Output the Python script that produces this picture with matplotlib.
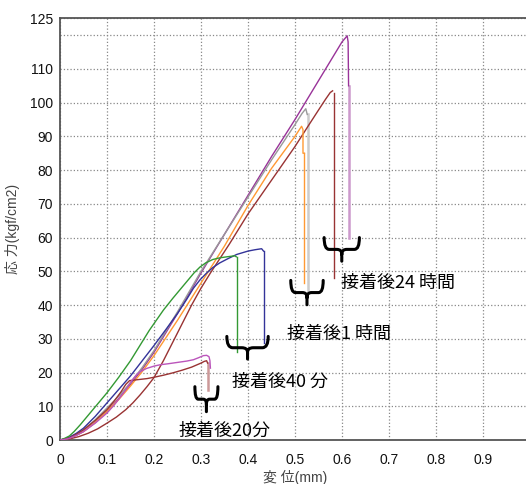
import numpy as np
import matplotlib
matplotlib.use('Agg')
import matplotlib.pyplot as plt
from matplotlib.path import Path
from matplotlib.patches import PathPatch

plt.rcParams['font.family'] = ['Liberation Sans', 'Noto Sans CJK JP']

# 接着後20分
m20_x = [0, 0.01, 0.02, 0.035, 0.05, 0.075, 0.1, 0.115, 0.13, 0.142, 0.152, 0.162, 0.17, 0.184,
         0.2, 0.213, 0.23, 0.25, 0.27, 0.284, 0.295, 0.305, 0.312, 0.317, 0.319, 0.32]
m20_y = [0, 0.2, 0.5, 1.4, 2.5, 5, 8, 10.3, 13, 15.3, 17.5, 19.2, 20.2, 21.2,
         21.9, 22.3, 22.6, 23, 23.4, 23.8, 24.4, 25, 25.1, 24.7, 23.5, 21.3]
r20_x = [0, 0.01, 0.02, 0.035, 0.05, 0.075, 0.1, 0.115, 0.13, 0.14, 0.148, 0.16, 0.185,
         0.2, 0.22, 0.24, 0.26, 0.28, 0.29, 0.3, 0.307, 0.312, 0.314]
r20_y = [0, 0.2, 0.6, 1.7, 3, 5.8, 9, 11.5, 14.3, 16.5, 17.6, 17.8, 18.2,
         18.6, 19.2, 19.9, 20.7, 21.6, 22.2, 22.8, 23.3, 23.5, 22.8]
r20_drop = (0.314, 22.8, 14.8)

# 接着後40分
g40_x = [0, 0.01, 0.02, 0.03, 0.043, 0.07, 0.1, 0.125, 0.15, 0.17, 0.19, 0.22, 0.24, 0.255,
         0.27, 0.285, 0.298, 0.31, 0.325, 0.34, 0.355, 0.372, 0.375]
g40_y = [0, 0.5, 1.2, 2.5, 4.5, 9, 14, 18.6, 23.5, 28, 32.5, 38.5, 42, 44.5,
         47, 49.5, 51.3, 52.5, 53.5, 54, 54.3, 54.6, 54.3]
g40_drop = (0.376, 54.3, 26)
b40_x = [0, 0.01, 0.02, 0.035, 0.05, 0.075, 0.1, 0.125, 0.15, 0.175, 0.2, 0.225, 0.25, 0.27,
         0.284, 0.298, 0.312, 0.325, 0.34, 0.358, 0.376, 0.4, 0.415, 0.429, 0.433]
b40_y = [0, 0.3, 0.8, 2, 3.5, 7, 11, 15, 19, 23.5, 28, 32.7, 37.5, 41.8,
         45, 47.5, 49.5, 51.1, 52.5, 53.8, 55, 56, 56.4, 56.7, 56]
b40_drop = (0.434, 56, 28.8)

# 接着後1時間
k1_x = [0, 0.01, 0.02, 0.035, 0.05, 0.075, 0.1, 0.125, 0.15, 0.175, 0.2, 0.25, 0.3, 0.35,
        0.4, 0.45, 0.5, 0.515, 0.523, 0.526]
k1_y = [0, 0.3, 0.8, 1.8, 3, 6, 9.5, 13, 17, 21.5, 26.5, 38, 50, 61,
        72, 83, 93.5, 96.8, 98.2, 96.5]
k1_drop = (0.527, 96.5, 44)
o1_x = [0, 0.01, 0.02, 0.035, 0.05, 0.075, 0.1, 0.125, 0.15, 0.175, 0.2, 0.25, 0.3, 0.35,
        0.4, 0.45, 0.5, 0.514, 0.517, 0.517, 0.52]
o1_y = [0, 0.2, 0.6, 1.5, 2.5, 5.2, 8.5, 12, 16, 20.3, 25, 35.5, 46.5, 57.5,
        69.5, 80.5, 90, 93, 92, 85, 85]
o1_drop = (0.52, 85, 46.5)

# 接着後24時間
p24_x = [0, 0.01, 0.02, 0.035, 0.05, 0.075, 0.1, 0.125, 0.15, 0.175, 0.2, 0.25, 0.3, 0.35,
         0.4, 0.45, 0.5, 0.55, 0.6, 0.611, 0.613, 0.614]
p24_y = [0, 0.2, 0.5, 1.4, 2.5, 5.2, 8.5, 12.3, 16.5, 21, 26, 37.5, 49.5, 61,
         72.5, 84, 95, 106.5, 118, 119.8, 118, 105]
p24_drop = (0.614, 105, 60)
r24_x = [0, 0.02, 0.04, 0.06, 0.08, 0.1, 0.12, 0.14, 0.155, 0.17, 0.185, 0.2, 0.22, 0.24,
         0.26, 0.28, 0.3, 0.32, 0.36, 0.4, 0.45, 0.5, 0.53, 0.55, 0.565, 0.575, 0.58]
r24_y = [0, 0.3, 1, 2, 3.3, 5, 6.8, 9, 11, 13.3, 15.8, 18.5, 23.5, 29,
         34.5, 40, 45, 49.5, 58, 67, 77, 87, 93.5, 97.8, 101, 103, 103.5]
r24_drop = (0.582, 103, 48)

curves = [
    (r24_x, r24_y, '#993333', r24_drop, '#993333'),
    (p24_x, p24_y, '#993399', p24_drop, '#cc99cc'),
    (k1_x, k1_y, '#999999', k1_drop, '#cccccc'),
    (o1_x, o1_y, '#ff9933', o1_drop, '#ff9933'),
    (b40_x, b40_y, '#333399', b40_drop, '#333399'),
    (g40_x, g40_y, '#339933', g40_drop, '#339933'),
    (r20_x, r20_y, '#993333', r20_drop, '#cc9999'),
    (m20_x, m20_y, '#bb55bb', None, None),
]

labels = ['接着後20分', '接着後40 分', '接着後1 時間', '接着後24 時間']
label_pos = [(0.351, 2.8), (0.468, 17.3), (0.594, 31.4), (0.72, 46.5)]
braces = [(0.287, 0.336, 15.8, 8.4), (0.355, 0.443, 30.7, 24.0),
          (0.491, 0.560, 47.3, 40.1), (0.562, 0.637, 60.0, 53.0)]

x_ticks = [0, 0.1, 0.2, 0.3, 0.4, 0.5, 0.6, 0.7, 0.8, 0.9, 1.0]
x_ticklabels = ['0', '0.1', '0.2', '0.3', '0.4', '0.5', '0.6', '0.7', '0.8', '0.9', '1']
y_ticks = [0, 10, 20, 30, 40, 50, 60, 70, 80, 90, 100, 110, 120, 125]
y_ticklabels = ['0', '10', '20', '30', '40', '50', '60', '70', '80', '90', '100', '110', '', '125']


def brace(ax, x0, x1, ytop, ytip):
    xc = (x0 + x1) / 2
    ymid = ytop - (ytop - ytip) * 0.5
    r = (x1 - x0) * 0.14
    dy = (ytop - ytip) * 0.2
    verts, codes = [], []
    for xe, s in ((x0, 1), (x1, -1)):
        verts += [(xe, ytop), (xe, ymid), (xe + s * r, ymid), (xc - s * r, ymid),
                  (xc, ymid), (xc, ymid - dy)]
        codes += [Path.MOVETO, Path.CURVE3, Path.CURVE3, Path.LINETO,
                  Path.CURVE3, Path.CURVE3]
    verts += [(xc, ymid - dy), (xc, ytip)]
    codes += [Path.MOVETO, Path.LINETO]
    ax.add_patch(PathPatch(Path(verts, codes), fill=False, lw=2.2, color='black',
                           capstyle='round', joinstyle='round', zorder=5))


fig = plt.figure(figsize=(5.26, 4.84), dpi=100)
ax = fig.add_axes([60 / 526, 44 / 484, 470 / 526, 421.7 / 484])

for x, y, c, drop, dc in curves:
    ax.plot(x, y, color=c, lw=1.0, zorder=3)
    if drop is not None:
        ax.plot([drop[0], drop[0]], [drop[1], drop[2]], color=dc,
                lw=1.8 if dc in ('#cccccc', '#cc99cc', '#cc9999') else 1.0, zorder=2)

for b in braces:
    brace(ax, *b)
for t, (x, y) in zip(labels, label_pos):
    ax.text(x, y, t, fontsize=13, ha='center', va='center',
            family=['Noto Sans CJK JP'], zorder=6)

ax.set_xlim(0, 1.0)
ax.set_ylim(0, 125)
ax.set_xticks(x_ticks)
ax.set_xticklabels(x_ticklabels)
ax.set_yticks(y_ticks)
ax.set_yticklabels(y_ticklabels)
ax.tick_params(axis='both', length=0, labelsize=10, colors='#111111')
ax.tick_params(axis='x', pad=9)
ax.tick_params(axis='y', pad=5)
ax.grid(True, color='#888888', linestyle=':', lw=0.9)
for s in ax.spines.values():
    s.set_color('#555555')
    s.set_linewidth(1.3)

ax.set_ylabel('応 力(kgf/cm2)', fontsize=10, color='#444444')
ax.yaxis.set_label_coords(-0.085, 0.5)
ax.set_xlabel('変 位(mm)', fontsize=10, color='#444444')
ax.xaxis.set_label_coords(0.5, -0.072)

fig.savefig('out.png', dpi=100)
